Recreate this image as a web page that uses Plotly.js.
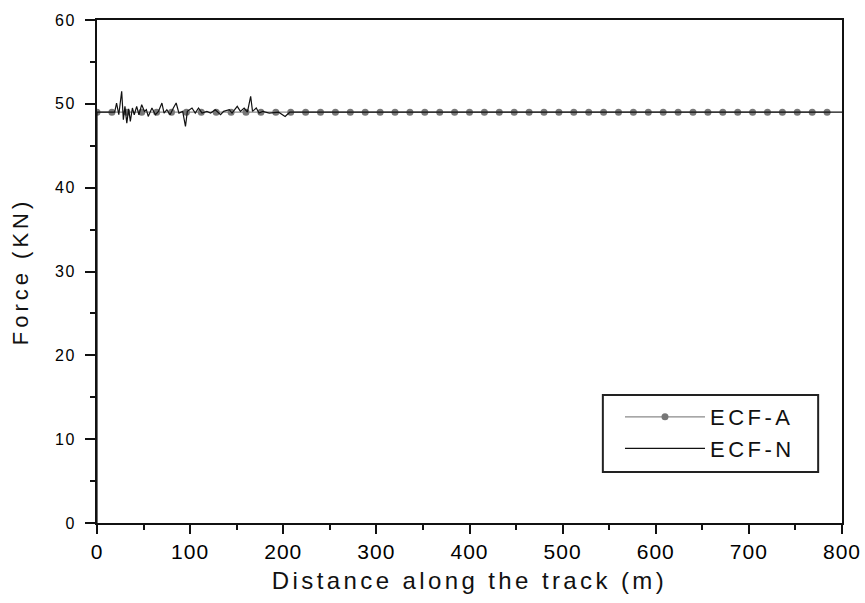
<!DOCTYPE html>
<html><head><meta charset="utf-8">
<script src="https://cdn.plot.ly/plotly-3.0.1.min.js"></script>
<style>
html,body{margin:0;padding:0;background:#fff}#chart{width:865px;height:603px}
.xtitle{letter-spacing:3.4px}
.ytitle{letter-spacing:4px}
.legendtext{letter-spacing:3.5px}
.ytick text{letter-spacing:1.5px}
.xtick text{letter-spacing:1px}
</style>
</head><body><div id="chart"></div>
<script>
// ECF-A: analytical force, sampled every 16 m
const ecfA_x = [0,16,32,48,64,80,96,112,128,144,160,176,192,208,224,240,256,272,288,304,320,336,352,368,384,400,416,432,448,464,480,496,512,528,544,560,576,592,608,624,640,656,672,688,704,720,736,752,768,784];
const ecfA_y = [49,49,49,49,49,49,49,49,49,49,49,49,49,49,49,49,49,49,49,49,49,49,49,49,49,49,49,49,49,49,49,49,49,49,49,49,49,49,49,49,49,49,49,49,49,49,49,49,49,49];
// ECF-N: numerical force
const ecfN_x = [0,0,19,21,23.4,26.5,28.3,30,32,34,35.8,38,40,42.6,45,48,51,53,55,59,62.7,66,69.7,72,75,78.5,82,85,88,92,95,97,102,105.5,109,112.8,118,122,127,132.7,136,142,145,150.6,154,158,161.5,165,167,171,174,178,185,195,202,207,212,800];
const ecfN_y = [0,49,49,50.1,48.7,51.5,48.1,49.7,47.7,49.4,47.9,49.5,48.7,49.7,48.7,49.9,49.1,49.3,48.5,49.5,48.7,49.1,50.1,48.9,49.3,48.7,49.5,50.1,48.9,49.1,47.3,49.1,49.5,48.9,49.5,48.9,49.1,48.9,49.3,48.7,49.1,49.3,48.9,49.7,49.1,49.5,49.0,50.9,49.1,49.5,48.9,49.1,48.9,49.0,48.5,49.0,49.0,49.0];

const xTicks = [0,100,200,300,400,500,600,700,800];
const yTicks = [0,10,20,30,40,50,60];

const traces = [
  {x: ecfA_x, y: ecfA_y, name: 'ECF-A', type: 'scatter', mode: 'lines+markers',
   line: {color: '#8a8a8a', width: 1.2}, marker: {color: '#777777', size: 7}},
  {x: ecfN_x, y: ecfN_y, name: 'ECF-N', type: 'scatter', mode: 'lines',
   line: {color: '#111111', width: 1.2}}
];

const yFont = {family: 'Arial, Liberation Sans, sans-serif', size: 16, color: '#000'};
const xFont = {family: 'Liberation Sans Narrow, Arial Narrow, Arial, sans-serif', size: 21, color: '#000'};
const layout = {
  width: 865, height: 603,
  margin: {l: 97, r: 23, t: 20, b: 80},
  paper_bgcolor: '#fff', plot_bgcolor: '#fff',
  showlegend: true,
  legend: {x: 0.702, y: 0.2525, xanchor: 'left', yanchor: 'top',
    borderwidth: 0, bgcolor: 'rgba(0,0,0,0)',
    font: {family: 'Arial, Liberation Sans, sans-serif', size: 22, color: '#111'},
    itemwidth: 80, tracegroupgap: 0},
  shapes: [{type: 'rect', xref: 'paper', yref: 'paper', x0: 0.679, x1: 0.968, y0: 0.1014, y1: 0.2545,
    line: {color: '#222', width: 2}, fillcolor: 'rgba(0,0,0,0)', layer: 'above'}],
  xaxis: {range: [0, 800], tickvals: xTicks, ticktext: xTicks.map(String),
    ticks: 'outside', ticklen: 9, tickwidth: 2, tickcolor: '#111',
    minor: {dtick: 50, ticks: 'outside', ticklen: 5, tickwidth: 2, tickcolor: '#111'},
    showline: true, linecolor: '#111', linewidth: 2, mirror: true,
    showgrid: false, zeroline: false, tickfont: xFont,
    title: {text: 'Distance along the track (m)', standoff: 10,
      font: {family: 'Arial, Liberation Sans, sans-serif', size: 24, color: '#111'}}},
  yaxis: {range: [0, 60], tickvals: yTicks, ticktext: yTicks.map(String),
    ticks: 'outside', ticklen: 10, tickwidth: 2, tickcolor: '#111', ticklabelstandoff: 6,
    minor: {dtick: 5, ticks: 'outside', ticklen: 5, tickwidth: 2, tickcolor: '#111'},
    showline: true, linecolor: '#111', linewidth: 2, mirror: true,
    showgrid: false, zeroline: false, tickfont: yFont,
    title: {text: 'Force (KN)', standoff: 20,
      font: {family: 'Arial, Liberation Sans, sans-serif', size: 22, color: '#111'}}}
};
Plotly.newPlot('chart', traces, layout, {displayModeBar: false, staticPlot: true});
</script></body></html>
